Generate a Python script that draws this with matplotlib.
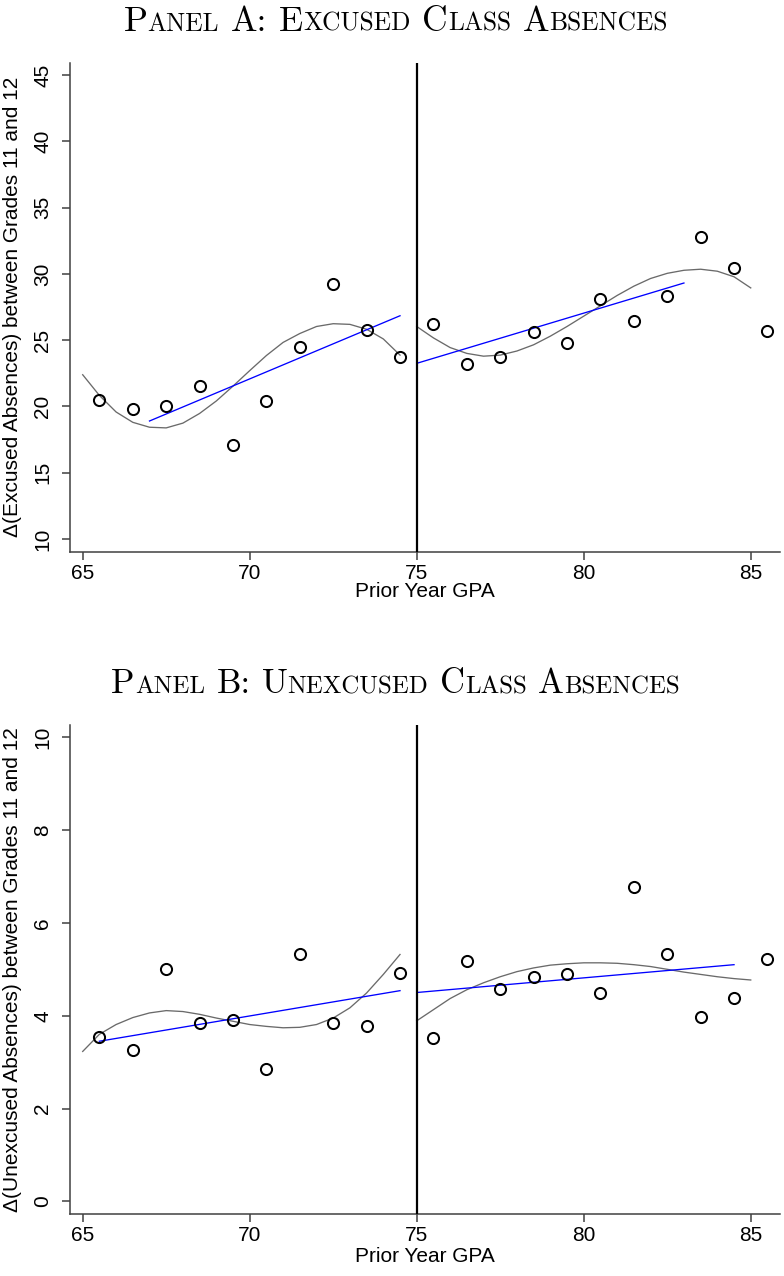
import matplotlib
matplotlib.use("Agg")
import matplotlib.pyplot as plt

# ---------------- data ----------------
bins_left = [65.5, 66.5, 67.5, 68.5, 69.5, 70.5, 71.5, 72.5, 73.5, 74.5]
bins_right = [75.5, 76.5, 77.5, 78.5, 79.5, 80.5, 81.5, 82.5, 83.5, 84.5, 85.5]

exc_left = [20.49, 19.79, 20.02, 21.55, 17.10, 20.38, 24.52, 29.26, 25.74, 23.74]
exc_right = [26.19, 23.22, 23.71, 25.59, 24.78, 28.09, 26.42, 28.32, 32.77, 30.43, 25.72]
exc_lin_left_x = [67.0, 74.5]
exc_lin_left_y = [18.9, 26.84]
exc_lin_right_x = [75.0, 83.0]
exc_lin_right_y = [23.25, 29.31]
curve_left_x = [65.0, 65.5, 66.0, 66.5, 67.0, 67.5, 68.0, 68.5, 69.0, 69.5,
                70.0, 70.5, 71.0, 71.5, 72.0, 72.5, 73.0, 73.5, 74.0, 74.5]
curve_right_x = [75.0, 75.5, 76.0, 76.5, 77.0, 77.5, 78.0, 78.5, 79.0, 79.5, 80.0,
                 80.5, 81.0, 81.5, 82.0, 82.5, 83.0, 83.5, 84.0, 84.5, 85.0]
exc_curve_left = [22.39, 20.83, 19.58, 18.80, 18.43, 18.38, 18.74, 19.47, 20.41, 21.53,
                  22.70, 23.84, 24.83, 25.50, 26.03, 26.24, 26.19, 25.82, 25.09, 23.87]
exc_curve_right = [26.03, 25.17, 24.44, 24.00, 23.79, 23.87, 24.18, 24.65, 25.30, 26.03, 26.81,
                   27.59, 28.37, 29.07, 29.65, 30.04, 30.27, 30.35, 30.20, 29.78, 28.94]

unx_left = [3.54, 3.26, 5.00, 3.84, 3.90, 2.86, 5.33, 3.84, 3.77, 4.93]
unx_right = [3.52, 5.19, 4.57, 4.83, 4.89, 4.49, 6.78, 5.33, 3.98, 4.38, 5.23]
unx_lin_left_x = [65.5, 74.5]
unx_lin_left_y = [3.45, 4.54]
unx_lin_right_x = [75.0, 84.5]
unx_lin_right_y = [4.50, 5.10]
unx_curve_left = [3.23, 3.60, 3.81, 3.96, 4.06, 4.11, 4.09, 4.03, 3.95, 3.88,
                  3.81, 3.77, 3.74, 3.75, 3.81, 3.95, 4.17, 4.49, 4.89, 5.32]
unx_curve_right = [3.89, 4.13, 4.37, 4.56, 4.71, 4.84, 4.95, 5.03, 5.09, 5.12, 5.14,
                   5.14, 5.13, 5.10, 5.06, 5.00, 4.94, 4.89, 4.84, 4.80, 4.77]

x_ticks = [65, 70, 75, 80, 85]
yticks_a = [10, 15, 20, 25, 30, 35, 40, 45]
yticks_b = [0, 2, 4, 6, 8, 10]
title_a = "Panel A: Excused Class Absences"
title_b = "Panel B: Unexcused Class Absences"
ylabel_a = "\u0394(Excused Absences) between Grades 11 and 12"
ylabel_b = "\u0394(Unexcused Absences) between Grades 11 and 12"
xlabel = "Prior Year GPA"

# ---------------- figure ----------------
W, H = 784, 1276
fig = plt.figure(figsize=(W / 100, H / 100), dpi=100)
plt.rcParams['font.family'] = ['Liberation Sans', 'DejaVu Sans']

SPINE = '#404040'
TICKFS = 15


def make_panel(rect, ylim, yticks, ylabel, ly, ry, linlx, linly, linrx, linry,
               cl, cr, xlab_y):
    ax = fig.add_axes(rect)
    ax.set_xlim(64.62, 85.87)
    ax.set_ylim(*ylim)
    for s in ['top', 'right']:
        ax.spines[s].set_visible(False)
    for s in ['left', 'bottom']:
        ax.spines[s].set_color(SPINE)
        ax.spines[s].set_linewidth(1.1)
    ax.set_xticks(x_ticks)
    ax.set_yticks(yticks)
    ax.tick_params(axis='both', direction='out', length=5.8, width=1.1, color=SPINE,
                   labelsize=TICKFS, labelcolor='black')
    ax.tick_params(axis='y', pad=7, labelrotation=90)
    ax.tick_params(axis='x', pad=2.7)
    for lab in ax.get_yticklabels():
        lab.set_va('center')
    ax.axvline(75, color='black', lw=1.6, zorder=3)
    ax.plot(curve_left_x, cl, color='#6a6a6a', lw=0.95, zorder=2)
    ax.plot(curve_right_x, cr, color='#6a6a6a', lw=0.95, zorder=2)
    ax.plot(linlx, linly, color='#0000ff', lw=0.95, zorder=2)
    ax.plot(linrx, linry, color='#0000ff', lw=0.95, zorder=2)
    ax.plot(bins_left, ly, 'o', mfc='none', mec='black', ms=8.0, mew=1.45, zorder=4)
    ax.plot(bins_right, ry, 'o', mfc='none', mec='black', ms=8.0, mew=1.45, zorder=4)
    ax.set_ylabel(ylabel, fontsize=TICKFS)
    ax.yaxis.set_label_coords(-0.0676, 0.5)
    ax.set_xlabel(xlabel, fontsize=TICKFS)
    ax.xaxis.label.set_va('center')
    ax.xaxis.set_label_coords(0.5, xlab_y)
    return ax


def frac(top_px, bottom_px):
    left = 70 / W
    width = (779.8 - 70) / W
    return [left, 1 - bottom_px / H, width, (bottom_px - top_px) / H]


make_panel(frac(62.7, 551.7), (9.04, 45.93), yticks_a, ylabel_a, exc_left, exc_right,
           exc_lin_left_x, exc_lin_left_y, exc_lin_right_x, exc_lin_right_y,
           exc_curve_left, exc_curve_right, -0.0824)
make_panel(frac(724.8, 1214.3), (-0.28, 10.27), yticks_b, ylabel_b, unx_left, unx_right,
           unx_lin_left_x, unx_lin_left_y, unx_lin_right_x, unx_lin_right_y,
           unx_curve_left, unx_curve_right, -0.0872)


def smallcaps(s, xc_px, base_px, target_w, big=21.0, ratio=0.72, family='cmr10'):
    runs = []
    for ch in s:
        if ch == ' ':
            kind, t = 'sp', ' '
        elif ch.islower():
            kind, t = 'small', ch.upper()
        else:
            kind, t = 'big', ch
        if runs and runs[-1][1] == kind and kind != 'sp':
            runs[-1][0] += t
        else:
            runs.append([t, kind])
    renderer = fig.canvas.get_renderer()

    def layout(bigsize):
        small = bigsize * ratio
        space_px = 0.333 * bigsize * 100 / 72
        items = []
        x = 0.0
        for t, kind in runs:
            if kind == 'sp':
                x += space_px
                continue
            size = bigsize if kind == 'big' else small
            txt = fig.text(0, 1 - base_px / H, t, fontsize=size, family=family,
                           ha='left', va='baseline', color='black')
            w = txt.get_window_extent(renderer).width
            items.append((txt, x))
            x += w
        return items, x

    items, total = layout(big)
    scale = target_w / total
    for txt, _ in items:
        txt.remove()
    items, total = layout(big * scale)
    x0 = xc_px - total / 2
    for txt, off in items:
        txt.set_x((x0 + off) / W)


smallcaps(title_a, 395.5, 30.7, 545)
smallcaps(title_b, 395.5, 693.0, 545 * 1.04)

fig.savefig("out.png", dpi=100)
